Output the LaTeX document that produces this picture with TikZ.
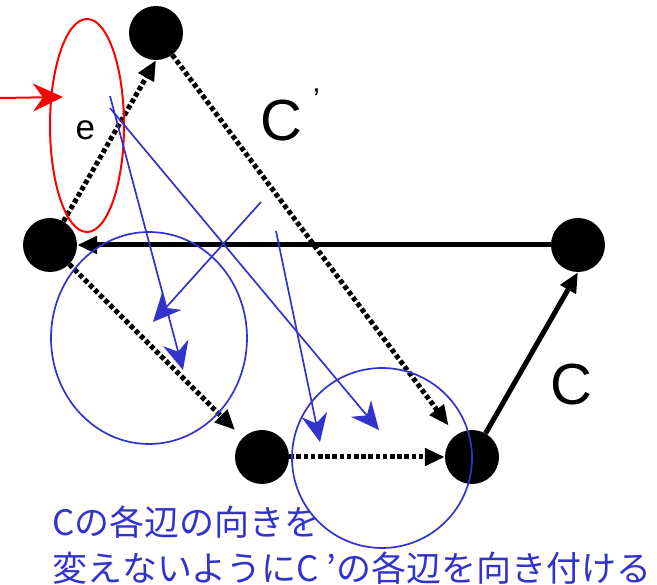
\documentclass[tikz,border=0pt]{standalone}
\usepackage{fontspec}
\setmainfont{Liberation Sans}
\newfontfamily\jpfont{Noto Sans CJK JP}
\usetikzlibrary{arrows.meta, shapes.geometric}
\definecolor{pblue}{RGB}{51,51,204}
\tikzset{
    vertex/.style={circle, fill=black, inner sep=0pt, minimum size=54pt},
    edgeC/.style={-{Triangle[length=20pt,width=17pt]}, line width=5pt},
    edgeCp/.style={-{Triangle[length=20pt,width=17pt]}, line width=5pt, dash pattern=on 4.5pt off 2.7pt},
    flow/.style={-{Stealth[length=28pt,width=26pt,inset=9pt]}, pblue, line width=1.7pt},
    ring/.style={pblue, line width=1.7pt},
    bigtext/.style={anchor=base west, inner sep=0pt, font=\fontsize{58}{58}\selectfont}
}

\begin{document}
\begin{tikzpicture}[x=1pt, y=-1pt]
    \useasboundingbox (0,0) rectangle (657,585);
    % vertices
    \node[vertex] (v1) at (156,33) {};
    \node[vertex] (v2) at (50,245) {};
    \node[vertex] (v3) at (578,245) {};
    \node[vertex] (v4) at (262,457) {};
    \node[vertex] (v5) at (472,457) {};
    % cycle C (solid)
    \draw[edgeC] (v3) -- (v2);
    \draw[edgeC] (v5) -- (v3.south);
    % cycle C' (dotted)
    \draw[edgeCp] (v2) -- (v1.south);
    \draw[edgeCp, shorten >=12pt] (v1) -- (v5);
    \draw[edgeCp, shorten >=11pt] (v2) -- (v4);
    \draw[edgeCp] (v4) -- (v5);
    \node[bigtext] (lc) at (550,405) {C};
    \node[bigtext] (lcp) at (260,141) {C\hspace{11pt}\raisebox{31pt}{\fontsize{30}{30}\selectfont ’}};

    % edge e
    \node[ellipse, draw=red, line width=2pt, minimum width=74pt, minimum height=213pt, inner sep=0pt] (loop) at (87,125.5) {};
    \node[anchor=base west, inner sep=0pt, font=\fontsize{35}{35}\selectfont] (le) at (75.5,140) {e};
    \coordinate (rin) at (0,98); \coordinate (rtip) at (63,97);
    \draw[-{Stealth[length=30pt,width=28pt,inset=10pt]}, red, line width=2pt] (rin) -- (rtip);

    % blue circles and arrows
    \draw[ring] (149,338) ellipse [x radius=98, y radius=106];
    \draw[ring] (382,458) circle [radius=90];
    \coordinate (a1) at (110,96);  \coordinate (b1) at (183,370);
    \coordinate (a2) at (110,108); \coordinate (b2) at (379,430);
    \coordinate (a3) at (261,202); \coordinate (b3) at (153,322);
    \coordinate (a4) at (276,231); \coordinate (b4) at (320,442);
    \draw[flow] (a1) -- (b1);
    \draw[flow] (a2) -- (b2);
    \draw[flow] (a3) -- (b3);
    \draw[flow] (a4) -- (b4);

    \node[anchor=base west, inner sep=0pt, align=left, text=pblue,
          font=\jpfont\fontsize{35}{46}\selectfont] (note) at (52,582)
        {Cの各辺の向きを\\変えないようにC ’の各辺を向き付ける};
\end{tikzpicture}
\end{document}
